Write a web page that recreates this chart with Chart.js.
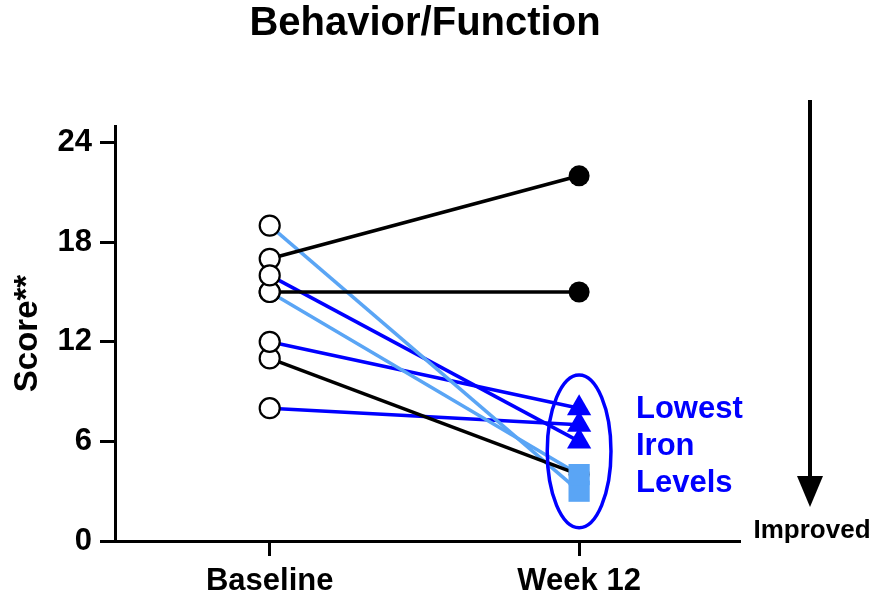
<!DOCTYPE html>
<html>
<head>
<meta charset="utf-8">
<script src="https://cdn.jsdelivr.net/npm/chart.js@4.4.1/dist/chart.umd.min.js"></script>
<style>
  html, body { margin: 0; padding: 0; background: #fff; }
  #wrap { width: 874px; height: 596px; }
</style>
</head>
<body>
<div id="wrap"><canvas id="chart" width="874" height="596"></canvas></div>
<script>
const categories = ['Baseline', 'Week 12'];
const yTicks = [0, 6, 12, 18, 24];
// one entry per subject
const baselineScores = [17, 15, 11, 19, 15, 16, 12, 8];
const week12Scores = [22, 15, 4, 3, 4, 6, 8, 7];
const groups = ['other', 'other', 'other', 'lowLight', 'lowLight', 'low', 'low', 'low'];
const noteLines = ['Lowest', 'Iron', 'Levels'];

const FONT = '"Liberation Sans", Arial, Helvetica, sans-serif';
const groupColor = { other: '#000000', lowLight: '#5aa5f5', low: '#0000ff' };
const groupMarker = { other: 'circle', lowLight: 'rect', low: 'triangle' };
const groupRadius = { other: 10.5, lowLight: 15, low: 14 };

// subject lines, drawn under the markers
const lineSets = baselineScores.map((b, i) => ({
  type: 'line',
  data: [{ x: 0, y: b }, { x: 1, y: week12Scores[i] }],
  borderColor: groupColor[groups[i]],
  borderWidth: 3.5,
  pointRadius: 0,
  order: 3
}));

const baselineSet = {
  type: 'scatter',
  data: baselineScores.map(y => ({ x: 0, y })),
  pointStyle: 'circle',
  pointRadius: 10,
  pointBackgroundColor: '#ffffff',
  pointBorderColor: '#000000',
  pointBorderWidth: 2.2,
  order: 1
};

const week12Set = {
  type: 'scatter',
  data: week12Scores.map(y => ({ x: 1, y })),
  pointStyle: groups.map(g => groupMarker[g]),
  pointRadius: groups.map(g => groupRadius[g]),
  pointBackgroundColor: groups.map(g => groupColor[g]),
  pointBorderColor: groups.map(g => groupColor[g]),
  pointBorderWidth: 0,
  order: 2
};

// extra drawing: title, ellipse around lowest iron group, arrow
const extras = {
  id: 'extras',
  afterDraw(chart) {
    const ctx = chart.ctx;
    const { x, y } = chart.scales;
    ctx.save();

    ctx.fillStyle = '#000';
    ctx.textAlign = 'center';
    ctx.textBaseline = 'middle';
    ctx.font = 'bold 40px ' + FONT;
    ctx.fillText('Behavior/Function', 425, 24);

    // ellipse in data units
    const cx = x.getPixelForValue(1);
    const top = y.getPixelForValue(10);
    const bot = y.getPixelForValue(0.8);
    const rx = x.getPixelForValue(1.103) - cx;
    ctx.strokeStyle = '#0000ff';
    ctx.lineWidth = 3.5;
    ctx.beginPath();
    ctx.ellipse(cx, (top + bot) / 2, rx, (bot - top) / 2, 0, 0, Math.PI * 2);
    ctx.stroke();

    ctx.fillStyle = '#0000ff';
    ctx.textAlign = 'left';
    ctx.font = 'bold 31px ' + FONT;
    noteLines.forEach((t, i) => ctx.fillText(t, 636, 409 + i * 37));

    // arrow
    ctx.strokeStyle = '#000';
    ctx.fillStyle = '#000';
    ctx.lineWidth = 4;
    ctx.beginPath();
    ctx.moveTo(810, 100);
    ctx.lineTo(810, 480);
    ctx.stroke();
    ctx.beginPath();
    ctx.moveTo(797, 476);
    ctx.lineTo(823, 476);
    ctx.lineTo(810, 507);
    ctx.closePath();
    ctx.fill();

    ctx.textAlign = 'center';
    ctx.font = 'bold 26px ' + FONT;
    ctx.fillText('Improved', 812, 531);
    ctx.restore();
  }
};

new Chart(document.getElementById('chart'), {
  data: { datasets: [...lineSets, baselineSet, week12Set] },
  options: {
    responsive: false,
    animation: false,
    layout: { padding: { top: 126, right: 134, bottom: 0, left: 0 } },
    plugins: { legend: { display: false }, tooltip: { enabled: false } },
    scales: {
      x: {
        type: 'linear',
        min: -0.5,
        max: 1.52,
        afterBuildTicks: s => { s.ticks = [{ value: 0 }, { value: 1 }]; },
        afterFit: s => { s.height = 55; },
        ticks: {
          callback: v => categories[v],
          color: '#000',
          padding: 7,
          font: { family: FONT, size: 31, weight: 'bold' }
        },
        grid: { drawOnChartArea: false, tickLength: 15, tickWidth: 3, tickColor: '#000' },
        border: { display: true, color: '#000', width: 3 }
      },
      y: {
        min: 0,
        max: 25,
        afterBuildTicks: s => { s.ticks = yTicks.map(v => ({ value: v })); },
        afterFit: s => { s.width = 115; },
        ticks: {
          color: '#000',
          padding: 8,
          font: { family: FONT, size: 31, weight: 'bold' }
        },
        title: {
          display: true,
          text: 'Score**',
          color: '#000',
          padding: { top: 8, bottom: 0 },
          font: { family: FONT, size: 33, weight: 'bold' }
        },
        grid: { drawOnChartArea: false, tickLength: 15, tickWidth: 3, tickColor: '#000' },
        border: { display: true, color: '#000', width: 3 }
      }
    }
  },
  plugins: [extras]
});
</script>
</body>
</html>
